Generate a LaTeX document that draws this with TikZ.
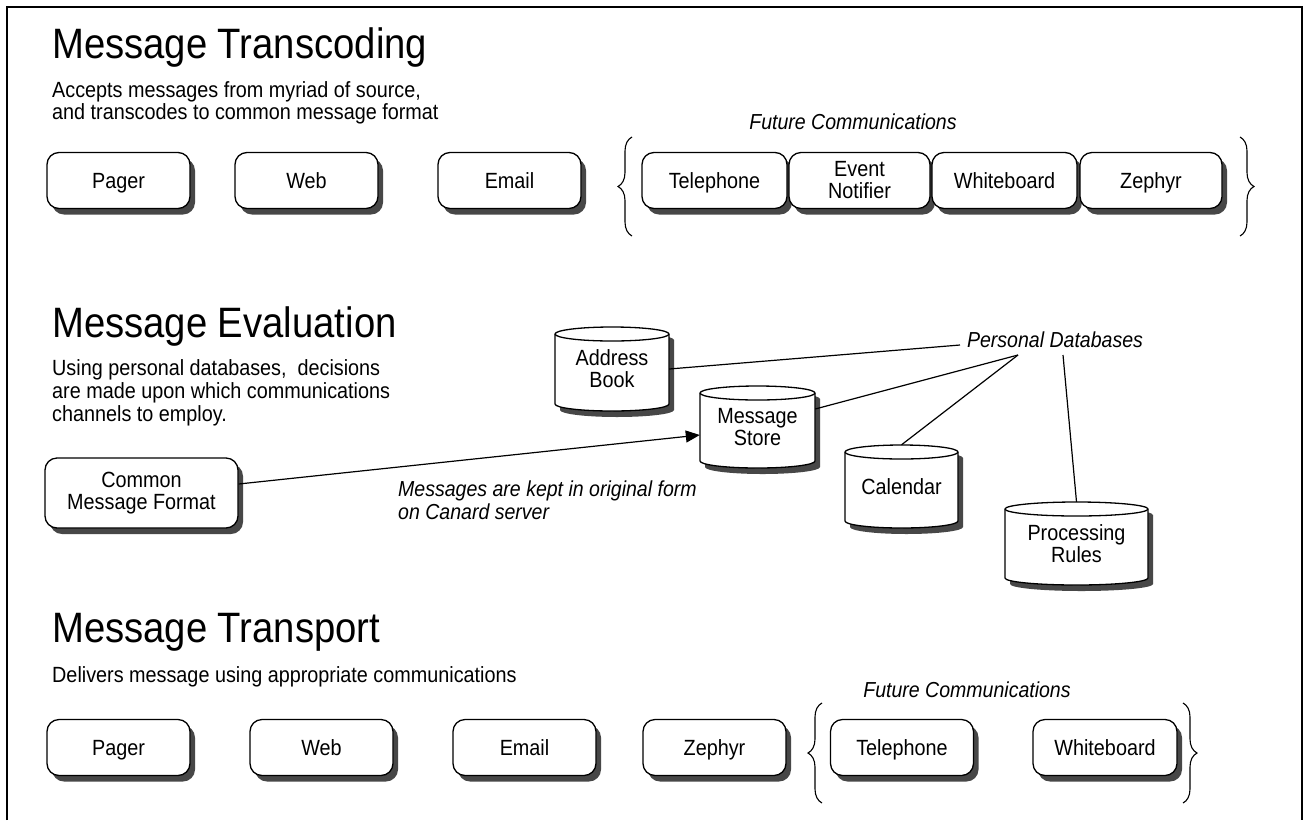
\documentclass[tikz,border=0pt]{standalone}
\usepackage{fontspec}
\setmainfont{Liberation Sans}[FakeStretch=0.9]
\usetikzlibrary{shadows,decorations.pathreplacing,arrows.meta}
\newcommand\dgTitle{\fontsize{42.5}{46}\selectfont}
\newcommand\dgBody{\fontsize{22}{23}\selectfont}
\newcommand\dgLab{\fontsize{21.7}{23}\selectfont\itshape}
\tikzset{
  rbox/.style={draw, line width=1.3pt, rounded corners=12pt, fill=white,
    font=\dgBody, inner sep=0pt, minimum height=56pt,
    drop shadow={shadow xshift=5pt, shadow yshift=-6pt, fill=black!72, opacity=1}},
  one/.style={text height=16pt, text depth=0pt},
  two/.style={align=center},
  hd/.style={anchor=base west, inner sep=0pt, font=\dgTitle},
  txt/.style={anchor=base west, inner sep=0pt, font=\dgBody},
  lab/.style={anchor=base, inner sep=0pt, font=\dgLab},
  conn/.style={line width=1.2pt},
  brc/.style={decorate, decoration={brace, amplitude=14pt}, line width=1.1pt},
  cylshadow/.style={fill=black!72},
  cylbody/.style={fill=white, draw, line width=1.3pt},
  cyltext/.style={inner sep=0pt, align=center, font=\dgBody}
}
% name, L, T, R, B, text
\newcommand\dgCyl[6]{%
  \fill[cylshadow] (#2+5,#3+13) -- (#2+5,#5-1)
     arc[start angle=180, end angle=0, x radius={(#4-#2)/2}, y radius=7]
     -- (#4+5,#3+13)
     arc[start angle=0, end angle=-180, x radius={(#4-#2)/2}, y radius=7] -- cycle;
  \filldraw[cylbody] (#2,#3+7) -- (#2,#5-7)
     arc[start angle=180, end angle=0, x radius={(#4-#2)/2}, y radius=7]
     -- (#4,#3+7)
     arc[start angle=0, end angle=-180, x radius={(#4-#2)/2}, y radius=7] -- cycle;
  \draw[line width=1.3pt] (#2,#3+7)
     arc[start angle=180, end angle=0, x radius={(#4-#2)/2}, y radius=7];
  \node[cyltext, minimum width={(#4-#2)*1pt}, minimum height={(#5-#3)*1pt}]
     (#1) at ({(#2+#4)/2},{(#3+#5)/2}) {#6};
}
\begin{document}
\begin{tikzpicture}[x=1pt,y=-1pt]
\useasboundingbox (0,0) rectangle (1304,820);
\fill[white] (0,0) rectangle (1304,820);
\draw[line width=2pt] (7,820) -- (7,7) -- (1302,7) -- (1302,820);

% ---------- Message Transcoding ----------
\node[hd] (h1) at (52,58) {Message Transcoding};
\node[txt] (d1a) at (52,97) {Accepts messages from myriad of source,};
\node[txt] (d1b) at (52,119) {and transcodes to common message format};
\node[lab] (fc1) at (853,129) {Future Communications};

\node[rbox, one, minimum width=143pt] (ipager) at (118.5,180.5) {Pager};
\node[rbox, one, minimum width=143pt] (iweb) at (306.5,180.5) {Web};
\node[rbox, one, minimum width=143pt] (iemail) at (509.5,180.5) {Email};
\node[rbox, one, minimum width=145pt] (itel) at (714.5,180.5) {Telephone};
\node[rbox, two, minimum width=141pt] (ievent) at (859.5,180.5) {Event\\[-1pt]Notifier};
\node[rbox, one, minimum width=145pt] (iwhite) at (1004.5,180.5) {Whiteboard};
\node[rbox, one, minimum width=142pt] (izeph) at (1151,180.5) {Zephyr};
\draw[brc] (632,236) -- (632,137);
\draw[brc] (1240,137) -- (1240,236);

% ---------- Message Evaluation ----------
\node[hd] (h2) at (52,337) {Message Evaluation};
\node[txt] (d2a) at (52,375) {Using personal databases,\ \ decisions};
\node[txt] (d2b) at (52,398) {are made upon which communications};
\node[txt] (d2c) at (52,421) {channels to employ.};

\node[rbox, two, minimum width=193pt, minimum height=70pt] (cmf) at (141.5,493) {Common\\[-1pt]Message Format};

\dgCyl{ab}{555}{327}{669}{411}{Address\\[-1pt]Book}
\dgCyl{ms}{700}{386}{815}{468}{Message\\[-1pt]Store}
\dgCyl{cal}{845}{445}{958}{528}{Calendar}
\dgCyl{pr}{1005}{502}{1148}{585}{Processing\\[-1pt]Rules}

\node[lab] (pd) at (1055,347) {Personal Databases};
\coordinate (pdl) at (960,345);
\coordinate (pdm) at (1018,355);
\coordinate (pdv) at (1063,355);
\draw[conn] (ab.east) -- (pdl);
\draw[conn] ([yshift=18pt]ms.east) -- (pdm);
\draw[conn] (cal.north) -- (pdm);
\draw[conn] (pr.north) -- (pdv);

\draw[conn, -{Triangle[length=14pt,width=12pt]}] ([yshift=9pt]cmf.east) -- ([yshift=-8pt]ms.west);
\node[lab, anchor=base west] (mk1) at (398,496) {Messages are kept in original form};
\node[lab, anchor=base west] (mk2) at (398,519) {on Canard server};

% ---------- Message Transport ----------
\node[hd] (h3) at (52,642) {Message Transport};
\node[txt] (d3) at (52,682) {Delivers message using appropriate communications};
\node[lab] (fc3) at (967,697) {Future Communications};

\node[rbox, one, minimum width=143pt] (opager) at (118.5,747.5) {Pager};
\node[rbox, one, minimum width=143pt] (oweb) at (321.5,747.5) {Web};
\node[rbox, one, minimum width=143pt] (oemail) at (524.5,747.5) {Email};
\node[rbox, one, minimum width=143pt] (ozeph) at (714.5,747.5) {Zephyr};
\node[rbox, one, minimum width=143pt] (otel) at (902,747.5) {Telephone};
\node[rbox, one, minimum width=144pt] (owhite) at (1105,747.5) {Whiteboard};
\draw[brc] (822,803) -- (822,703);
\draw[brc] (1183,703) -- (1183,803);
\end{tikzpicture}
\end{document}
